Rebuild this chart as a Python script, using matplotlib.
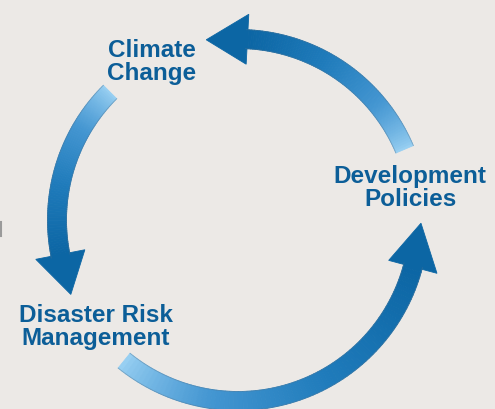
import numpy as np
import matplotlib.pyplot as plt
from matplotlib.collections import PolyCollection
from matplotlib.colors import LinearSegmentedColormap
from matplotlib.patches import Polygon

# cycle labels and where they sit (image pixels)
labels = ["Climate\nChange", "Development\nPolicies", "Disaster Risk\nManagement"]
label_x = [152, 410, 96]
label_y = [62, 188, 327]

# arrows: tail angle, head base angle, tip angle (degrees, ccw)
tail_deg = [23, 135, 231]
base_deg = [87, 191, 345]
tip_deg = [100, 204, 359]

cx, cy, r = 238, 220, 181
shaft_w = 19
head_w = 50

bg = "#ece9e6"
text_col = "#0c5e98"
cmap = LinearSegmentedColormap.from_list("arr", ["#97cff2", "#4597d2", "#1f7bbb", "#0c66a4"])

fig = plt.figure(figsize=(4.95, 4.09), dpi=100, facecolor=bg)
ax = fig.add_axes([0, 0, 1, 1])
ax.set_facecolor(bg)
ax.set_xlim(0, 495)
ax.set_ylim(409, 0)
ax.axis("off")


def pt(rad, th):
    t = np.radians(th)
    return cx + rad * np.cos(t), cy - rad * np.sin(t)


for t0, tb, tt in zip(tail_deg, base_deg, tip_deg):
    th = np.linspace(t0, tb + 0.5, 80)
    quads = []
    for a, b in zip(th[:-1], th[1:]):
        quads.append([pt(r - shaft_w / 2, a), pt(r + shaft_w / 2, a),
                      pt(r + shaft_w / 2, b), pt(r - shaft_w / 2, b)])
    cols = cmap(np.linspace(0, 1, len(quads)) ** 0.8)
    ax.add_collection(PolyCollection(quads, facecolors=cols, edgecolors=cols, linewidths=0.6))
    # faint darker rim along the shaft
    for rr in (r - shaft_w / 2, r + shaft_w / 2):
        xs, ys = pt(rr, th)
        ax.plot(xs, ys, color="#4d7391", lw=0.6, alpha=0.45)
    head = [pt(r - head_w / 2, tb), pt(r + head_w / 2, tb), pt(r + 2, tt)]
    ax.add_patch(Polygon(head, closed=True, facecolor="#0c66a4", edgecolor="#0c66a4", lw=0.6))

for s, x, y in zip(labels, label_x, label_y):
    ax.text(x, y, s, ha="center", va="center", color=text_col, fontsize=17.5,
            fontweight="bold", family="Liberation Sans", linespacing=1.05)

# small grey mark on the left edge
ax.plot([1, 1], [222, 236], color="#9a9a9a", lw=1.5)

fig.savefig("out.png", dpi=100, facecolor=bg)
